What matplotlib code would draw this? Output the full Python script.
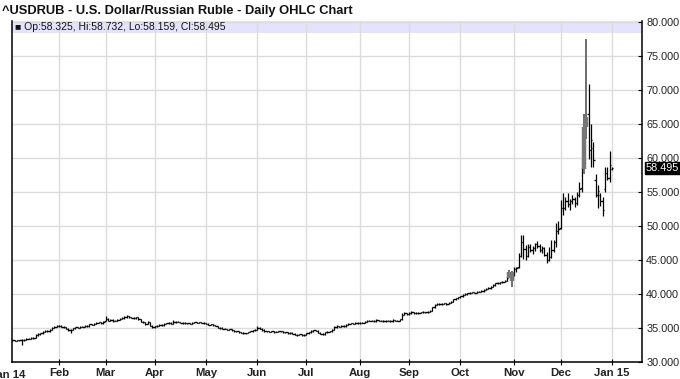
import matplotlib
matplotlib.use("Agg")
import matplotlib.pyplot as plt
import matplotlib.transforms as mtransforms
import pandas as pd

plt.rcParams['font.family'] = ['Liberation Sans', 'DejaVu Sans']

TITLE = "^USDRUB - U.S. Dollar/Russian Ruble - Daily OHLC Chart"
LEGEND = "Op:58.325, Hi:58.732, Lo:58.159, Cl:58.495"
LAST_PRICE = 58.495

# trading days, Jan 2 2014 .. Jan 2 2015 (no Dec 25 / Jan 1 bars)
START, END = '2014-01-02', '2015-01-02'
HOLIDAYS = ['2014-12-25', '2015-01-01']
MONTH_LABELS = ['Jan 14', 'Feb', 'Mar', 'Apr', 'May', 'Jun', 'Jul',
                'Aug', 'Sep', 'Oct', 'Nov', 'Dec', 'Jan 15']
Y_TICKS = [30, 35, 40, 45, 50, 55, 60, 65, 70, 75, 80]

# daily open / high / low / close, one line per month
opens = [
    32.95, 33.05, 33.15, 33.20, 33.15, 33.20, 33.18, 33.25, 33.22, 33.40, 33.45, 33.55, 33.50, 33.95, 34.10, 34.20, 34.40, 34.55, 34.50, 34.70, 35.05, 35.20,
    35.25, 35.35, 35.20, 35.10, 34.85, 34.70, 34.75, 34.95, 35.10, 35.05, 35.15, 35.20, 35.30, 35.25, 35.55, 35.50, 35.65, 35.75, 35.85, 35.70,
    36.05, 36.30, 36.10, 36.15, 36.05, 36.10, 36.20, 36.30, 36.45, 36.60, 36.70, 36.55, 36.50, 36.40, 36.55, 36.25, 35.95, 35.85, 35.60, 35.90, 35.35,
    35.15, 35.25, 35.30, 35.45, 35.40, 35.60, 35.70, 35.80, 35.65, 35.85, 35.95, 35.90, 35.80, 35.70, 35.75, 35.70, 35.65, 35.75, 35.85, 35.80, 35.85, 35.75,
    35.70, 35.60, 35.50, 35.55, 35.40, 35.30, 35.05, 35.00, 34.90, 34.85, 34.75, 34.80, 34.70, 34.55, 34.50, 34.35, 34.30, 34.20, 34.25, 34.40, 34.50, 34.65,
    34.75, 35.05, 34.90, 34.70, 34.55, 34.50, 34.45, 34.50, 34.40, 34.45, 34.55, 34.50, 34.40, 34.35, 34.20, 34.30, 34.15, 34.00, 33.95, 34.05, 33.90,
    34.00, 34.20, 34.40, 34.55, 34.65, 34.60, 34.30, 34.15, 34.05, 34.35, 34.45, 34.50, 34.70, 35.15, 35.25, 35.20, 35.30, 35.25, 35.45, 35.60, 35.70, 35.65, 35.75,
    35.70, 35.80, 35.75, 35.90, 36.10, 36.05, 36.10, 36.00, 36.15, 36.10, 36.05, 36.00, 36.10, 36.05, 36.00, 36.15, 36.10, 36.05, 36.25, 36.95, 37.15,
    37.05, 37.20, 37.35, 37.20, 37.15, 37.25, 37.30, 37.35, 37.30, 37.40, 37.55, 38.05, 38.45, 38.55, 38.50, 38.55, 38.60, 38.55, 38.70, 38.80, 39.20, 39.35,
    39.50, 39.65, 39.85, 40.00, 40.10, 40.20, 40.25, 40.15, 40.30, 40.35, 40.40, 40.65, 40.80, 40.85, 41.05, 41.30, 41.55, 41.60, 41.70, 41.80, 41.95, 42.40, 43.30,
    42.90, 43.60, 43.90, 45.60, 47.60, 46.60, 45.60, 46.90, 46.50, 46.70, 47.30, 47.10, 46.40, 46.70, 45.80, 45.00, 45.40, 46.40, 47.60, 49.30,
    49.70, 52.70, 52.60, 53.70, 53.20, 53.60, 53.90, 53.30, 54.60, 55.60, 58.30, 64.60, 66.50, 61.20, 61.50, 56.80, 54.50, 54.60, 53.70, 55.50, 57.80, 57.00,
    58.325,
]
highs = [
    33.15, 33.25, 33.30, 33.28, 33.30, 33.30, 33.35, 33.32, 33.50, 33.58, 33.65, 33.62, 34.05, 34.22, 34.30, 34.50, 34.68, 34.65, 34.85, 35.15, 35.35, 35.40,
    35.50, 35.42, 35.30, 35.15, 34.95, 34.85, 35.05, 35.20, 35.18, 35.25, 35.30, 35.40, 35.38, 35.65, 35.62, 35.75, 35.85, 35.95, 35.92, 36.05,
    36.75, 36.40, 36.25, 36.25, 36.20, 36.30, 36.40, 36.55, 36.70, 36.85, 36.78, 36.62, 36.58, 36.65, 36.60, 36.30, 36.05, 35.92, 35.98, 35.95, 35.42,
    35.35, 35.40, 35.55, 35.52, 35.68, 35.80, 35.90, 35.85, 36.20, 36.05, 36.02, 35.95, 35.85, 35.85, 35.80, 35.75, 35.85, 35.95, 35.92, 35.95, 35.90, 35.82,
    35.78, 35.68, 35.62, 35.62, 35.48, 35.35, 35.15, 35.08, 34.98, 34.92, 34.88, 34.88, 34.75, 34.62, 34.58, 34.42, 34.38, 34.32, 34.48, 34.58, 34.72, 34.85,
    35.30, 35.12, 34.98, 34.78, 34.62, 34.58, 34.58, 34.55, 34.52, 34.62, 34.62, 34.55, 34.45, 34.40, 34.38, 34.35, 34.22, 34.08, 34.12, 34.10, 34.08,
    34.28, 34.48, 34.65, 34.75, 34.72, 34.65, 34.38, 34.22, 34.42, 34.55, 34.58, 34.80, 35.30, 35.38, 35.32, 35.40, 35.38, 35.55, 35.70, 35.80, 35.78, 35.85, 35.82,
    35.90, 35.88, 35.98, 36.22, 36.18, 36.20, 36.15, 36.25, 36.22, 36.18, 36.12, 36.20, 36.18, 36.12, 36.25, 36.22, 36.18, 36.35, 37.20, 37.30, 37.25,
    37.32, 37.45, 37.42, 37.28, 37.35, 37.40, 37.45, 37.42, 37.50, 37.65, 38.15, 38.55, 38.68, 38.62, 38.65, 38.72, 38.68, 38.80, 38.92, 39.30, 39.45, 39.62,
    39.75, 39.95, 40.10, 40.20, 40.30, 40.35, 40.32, 40.40, 40.48, 40.52, 40.78, 40.92, 40.98, 41.15, 41.42, 41.65, 41.72, 41.82, 41.92, 42.08, 42.55, 43.50, 43.45,
    43.90, 44.00, 46.00, 48.60, 48.60, 47.20, 47.30, 47.40, 47.10, 47.50, 47.80, 47.40, 47.00, 46.90, 46.20, 46.90, 47.90, 48.00, 50.50, 50.80,
    53.80, 54.80, 54.20, 54.80, 53.90, 54.50, 54.20, 55.00, 56.40, 58.60, 66.50, 77.50, 70.90, 65.00, 62.30, 57.70, 56.00, 54.80, 54.20, 58.60, 58.60, 61.00,
    58.732,
]
lows = [
    32.90, 33.00, 33.08, 33.05, 33.08, 33.10, 32.45, 33.12, 33.18, 33.35, 33.40, 33.42, 33.48, 33.88, 34.02, 34.15, 34.35, 34.40, 34.45, 34.65, 34.95, 35.10,
    35.18, 35.12, 35.00, 34.78, 34.60, 34.30, 34.70, 34.90, 34.95, 35.00, 35.08, 35.15, 35.15, 35.20, 35.42, 35.45, 35.58, 35.68, 35.62, 35.65,
    36.00, 36.00, 36.02, 35.95, 35.98, 36.02, 36.12, 36.25, 36.38, 36.52, 36.45, 36.40, 36.30, 36.35, 36.18, 35.88, 35.78, 35.50, 35.52, 35.25, 35.05,
    35.05, 35.18, 35.22, 35.32, 35.35, 35.52, 35.62, 35.58, 35.60, 35.78, 35.82, 35.72, 35.62, 35.65, 35.62, 35.55, 35.60, 35.68, 35.72, 35.72, 35.68, 35.60,
    35.52, 35.42, 35.45, 35.35, 35.22, 34.98, 34.92, 34.82, 34.78, 34.68, 34.68, 34.62, 34.48, 34.42, 34.28, 34.22, 34.10, 34.15, 34.20, 34.35, 34.45, 34.58,
    34.70, 34.82, 34.62, 34.48, 34.42, 34.38, 34.40, 34.32, 34.35, 34.40, 34.42, 34.32, 34.28, 34.12, 34.15, 34.08, 33.92, 33.88, 33.90, 33.82, 33.85,
    33.95, 34.12, 34.32, 34.48, 34.52, 34.22, 34.08, 33.95, 34.00, 34.28, 34.38, 34.42, 34.65, 35.05, 35.10, 35.15, 35.15, 35.20, 35.38, 35.52, 35.55, 35.58, 35.60,
    35.62, 35.68, 35.70, 35.85, 35.98, 35.98, 35.92, 35.95, 36.02, 35.98, 35.92, 35.95, 35.98, 35.92, 35.95, 36.02, 35.98, 36.00, 36.20, 36.85, 36.98,
    36.98, 37.12, 37.12, 37.05, 37.08, 37.18, 37.22, 37.22, 37.22, 37.35, 37.50, 37.98, 38.38, 38.40, 38.42, 38.48, 38.45, 38.48, 38.62, 38.75, 39.12, 39.28,
    39.42, 39.58, 39.78, 39.92, 40.02, 40.12, 40.08, 40.10, 40.22, 40.28, 40.35, 40.58, 40.72, 40.78, 41.00, 41.22, 41.45, 41.52, 41.62, 41.72, 41.90, 42.30, 41.00,
    42.60, 43.30, 43.80, 45.40, 45.20, 45.00, 45.50, 46.20, 45.90, 46.30, 46.80, 46.20, 46.00, 45.60, 44.50, 44.80, 45.30, 46.10, 46.90, 48.80,
    49.60, 51.60, 52.30, 52.80, 52.30, 53.20, 52.80, 53.10, 54.20, 55.00, 57.70, 62.80, 59.90, 58.60, 58.60, 54.20, 52.70, 53.00, 51.50, 55.00, 56.70, 56.40,
    58.159,
]
closes = [
    33.05, 33.15, 33.20, 33.15, 33.20, 33.18, 33.25, 33.22, 33.40, 33.45, 33.55, 33.50, 33.95, 34.10, 34.20, 34.40, 34.55, 34.50, 34.70, 35.05, 35.20, 35.25,
    35.35, 35.20, 35.10, 34.85, 34.70, 34.75, 34.95, 35.10, 35.05, 35.15, 35.20, 35.30, 35.25, 35.55, 35.50, 35.65, 35.75, 35.85, 35.70, 35.95,
    36.30, 36.10, 36.15, 36.05, 36.10, 36.20, 36.30, 36.45, 36.60, 36.70, 36.55, 36.50, 36.40, 36.55, 36.25, 35.95, 35.85, 35.60, 35.90, 35.35, 35.15,
    35.25, 35.30, 35.45, 35.40, 35.60, 35.70, 35.80, 35.65, 35.85, 35.95, 35.90, 35.80, 35.70, 35.75, 35.70, 35.65, 35.75, 35.85, 35.80, 35.85, 35.75, 35.70,
    35.60, 35.50, 35.55, 35.40, 35.30, 35.05, 35.00, 34.90, 34.85, 34.75, 34.80, 34.70, 34.55, 34.50, 34.35, 34.30, 34.20, 34.25, 34.40, 34.50, 34.65, 34.75,
    35.05, 34.90, 34.70, 34.55, 34.50, 34.45, 34.50, 34.40, 34.45, 34.55, 34.50, 34.40, 34.35, 34.20, 34.30, 34.15, 34.00, 33.95, 34.05, 33.90, 34.00,
    34.20, 34.40, 34.55, 34.65, 34.60, 34.30, 34.15, 34.05, 34.35, 34.45, 34.50, 34.70, 35.15, 35.25, 35.20, 35.30, 35.25, 35.45, 35.60, 35.70, 35.65, 35.75, 35.70,
    35.80, 35.75, 35.90, 36.10, 36.05, 36.10, 36.00, 36.15, 36.10, 36.05, 36.00, 36.10, 36.05, 36.00, 36.15, 36.10, 36.05, 36.25, 36.95, 37.15, 37.05,
    37.20, 37.35, 37.20, 37.15, 37.25, 37.30, 37.35, 37.30, 37.40, 37.55, 38.05, 38.45, 38.55, 38.50, 38.55, 38.60, 38.55, 38.70, 38.80, 39.20, 39.35, 39.50,
    39.65, 39.85, 40.00, 40.10, 40.20, 40.25, 40.15, 40.30, 40.35, 40.40, 40.65, 40.80, 40.85, 41.05, 41.30, 41.55, 41.60, 41.70, 41.80, 41.95, 42.40, 43.30, 41.90,
    43.60, 43.80, 45.60, 47.60, 46.60, 45.60, 46.90, 46.50, 46.70, 47.30, 47.10, 46.40, 46.70, 45.80, 45.00, 45.40, 46.40, 47.60, 49.30, 49.60,
    52.70, 52.60, 53.70, 53.20, 53.60, 53.90, 53.30, 54.60, 55.40, 58.20, 64.50, 66.00, 61.20, 62.60, 59.70, 54.50, 55.20, 53.70, 52.40, 57.80, 57.10, 58.90,
    58.495,
]
# bars that barchart drew in grey
GREY_DAYS = ['2014-10-30', '2014-10-31', '2014-12-15', '2014-12-16']

days = pd.bdate_range(START, END)
days = days[~days.isin(pd.to_datetime(HOLIDAYS))]
assert len(days) == len(opens) == len(highs) == len(lows) == len(closes)

df = pd.DataFrame({'open': opens, 'high': highs, 'low': lows, 'close': closes}, index=days)
df['x'] = range(len(df))
grey = df.index.isin(pd.to_datetime(GREY_DAYS))

fig = plt.figure(figsize=(6.8, 3.79), dpi=100)
ax = fig.add_axes([12 / 680, 17 / 379, 630 / 680, 341.5 / 379])

# header band with last bar values
ax.axhspan(78.38, 80.2, color='#e3e3fb', zorder=0, lw=0)

blk = df[~grey]
ax.vlines(blk.x, blk.low, blk.high, color='black', lw=0.9, zorder=3)
ax.hlines(blk.open, blk.x - 0.55, blk.x, color='black', lw=0.9, zorder=3)
ax.hlines(blk.close, blk.x, blk.x + 0.55, color='black', lw=0.9, zorder=3)
gr = df[grey]
ax.vlines(gr.x, gr.low, gr.high, color='#6e6e6e', lw=1.4, zorder=3)
ax.vlines(gr.x, gr[['open', 'close']].min(axis=1), gr[['open', 'close']].max(axis=1),
          color='#777777', lw=3.2, zorder=3)

# month ticks at first trading day of each month
firsts = df.groupby([df.index.year, df.index.month])['x'].min().values
ax.set_xlim(1.84, 271.9)
ax.set_ylim(30, 80.2)
ax.set_xticks(firsts[1:])
ax.set_xticklabels(MONTH_LABELS[1:], fontweight='bold', fontsize=8.2, color='#222222')
# first label sits left of the plot, partly off the figure as in the original
trans = mtransforms.blended_transform_factory(ax.transData, ax.transAxes)
ax.text(firsts[0], -0.0235, MONTH_LABELS[0], transform=trans, ha='center', va='top',
        fontweight='bold', fontsize=8.2, color='#222222', clip_on=False)

ax.yaxis.tick_right()
ax.set_yticks(Y_TICKS)
ax.set_yticklabels([f"{v:.3f}" for v in Y_TICKS], fontsize=7.8, color='#222222')
ax.tick_params(axis='y', direction='in', length=3, pad=3, width=0.8)
ax.tick_params(axis='x', direction='inout', length=4, pad=2, width=0.8)
ax.grid(True, color='#dcdcdc', lw=1.0, zorder=1)
ax.set_axisbelow(True)

for side in ['left', 'bottom', 'right']:
    ax.spines[side].set_color('black')
    ax.spines[side].set_linewidth(1.1)
ax.spines['top'].set_visible(False)

# last price marker on the right axis
ax.text(1.006, LAST_PRICE, f"{LAST_PRICE:.3f}",
        transform=mtransforms.blended_transform_factory(ax.transAxes, ax.transData),
        ha='left', va='center', fontsize=7.8, color='white', clip_on=False,
        bbox=dict(boxstyle='square,pad=0.1', fc='black', ec='black'))

fig.text(2 / 680, 1 - 11 / 379, TITLE, fontweight='bold', fontsize=9.3, color='#111111', va='center', ha='left')
ax.text(3, 79.28, u"\u25A0 " + LEGEND, fontsize=7.5, color='#111111', va='center', ha='left')

fig.savefig('out.png', dpi=100)
